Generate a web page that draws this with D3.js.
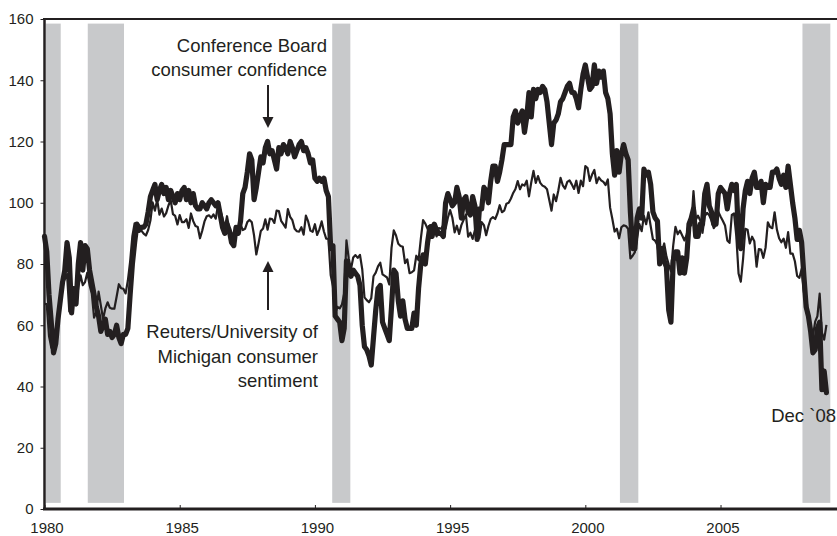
<!DOCTYPE html>
<html><head><meta charset="utf-8">
<script src="https://cdn.jsdelivr.net/npm/d3@7"></script>
<style>html,body{margin:0;padding:0;background:#fff;} svg{display:block;font-family:"Liberation Sans",Arial,Helvetica,sans-serif;}</style>
</head><body><svg id="chart" width="837" height="536"></svg>
<script>
// ---- data (monthly, Jan 1980 .. Dec 2008) ----
const startYear = 1980;
const conferenceBoard = [
  89,84,70,61,51,54,62,68,74,78,87,82,          // 1980
  64,72,67,80,87,78,86,85,78,74,70,66,          // 1981
  63,58,60,62,57,58,56,57,60,56,54,57,          // 1982
  57,59,70,80,87,93,91,92,92,93,97,102,         // 1983
  104,106,101,104,106,103,105,101,104,102,100,103, // 1984
  101,104,105,101,104,100,103,99,98,98,100,99,  // 1985
  98,100,101,100,99,100,96,92,90,93,91,87,      // 1986
  86,92,90,94,103,105,110,116,114,101,105,110,  // 1987
  115,113,118,120,116,117,114,111,118,116,119,118, // 1988
  116,120,118,115,117,119,120,117,118,116,113,114, // 1989
  108,107,108,107,108,104,102,85,86,63,62,61,   // 1990
  55,59,81,79,76,78,77,76,73,60,53,52,          // 1991
  50,47,56,65,72,73,61,59,57,55,66,78,          // 1992
  77,68,63,68,62,59,59,59,64,60,72,80,          // 1993
  83,80,87,92,89,93,91,90,90,89,100,103,        // 1994
  101,99,100,105,102,95,101,102,97,96,102,99,   // 1995
  88,98,98,105,104,100,107,112,112,107,110,114, // 1996
  119,119,119,119,128,130,126,128,130,123,128,136, // 1997
  128,137,134,137,136,138,137,133,126,119,126,127, // 1998
  129,133,134,136,138,139,136,136,134,131,137,142, // 1999
  145,141,137,138,145,139,143,141,143,136,134,129, // 2000
  116,109,117,110,116,119,116,114,97,85,85,95,  // 2001
  98,95,111,109,110,106,97,95,94,80,85,81,      // 2002
  79,65,61,81,84,84,77,82,77,82,93,95,          // 2003
  98,89,89,93,93,103,106,99,97,93,93,103,       // 2004
  105,104,103,98,103,106,104,106,88,85,98,104,  // 2005
  107,103,108,110,105,105,107,100,106,105,105,110, // 2006
  110,111,108,106,109,105,112,106,100,95,88,91, // 2007
  87,76,66,63,58,51,52,59,61,39,45,38           // 2008
];
const michigan = [
  67.0,66.9,56.5,52.7,51.7,58.7,62.3,67.3,73.7,75.0,76.7,64.5,   // 1980
  71.4,66.9,66.5,72.4,76.3,73.1,74.1,77.2,73.1,70.3,62.5,64.3,   // 1981
  71.0,66.5,62.0,65.5,67.5,65.7,65.4,65.4,69.3,73.4,72.1,71.9,   // 1982
  70.4,74.6,80.8,89.1,93.3,92.2,92.8,90.9,89.9,89.3,91.1,94.2,   // 1983
  100.1,97.4,101.0,96.1,98.1,95.5,96.6,99.1,100.9,96.3,95.7,92.9, // 1984
  96.0,93.7,93.7,94.6,91.8,96.5,94.0,92.4,92.1,88.4,90.9,93.9,   // 1985
  95.6,95.9,95.1,96.2,94.8,99.3,97.7,94.9,91.9,95.6,91.4,89.1,   // 1986
  90.4,90.2,90.8,92.8,91.1,91.5,93.7,94.4,93.6,89.3,83.1,86.8,   // 1987
  90.8,91.6,94.6,91.2,94.8,94.7,93.4,97.4,97.3,94.1,93.0,91.9,   // 1988
  97.9,95.4,94.3,91.5,90.7,90.6,92.0,89.6,95.8,93.9,90.9,90.5,   // 1989
  93.0,89.5,91.3,93.9,90.6,88.3,88.2,76.4,72.8,63.9,66.0,65.5,   // 1990
  66.8,70.4,87.7,81.8,78.3,82.1,82.9,82.0,83.0,78.3,69.1,68.2,   // 1991
  67.5,68.8,76.0,77.2,79.2,80.4,76.6,76.1,75.6,73.3,85.3,91.0,   // 1992
  89.3,86.6,85.9,85.6,80.3,81.5,77.0,77.3,77.9,82.7,81.2,88.2,   // 1993
  94.3,93.2,91.5,92.6,92.8,91.2,89.0,91.7,91.5,92.7,91.6,95.1,   // 1994
  97.6,95.1,90.3,92.5,89.8,92.7,94.4,96.2,88.9,90.2,88.2,91.0,   // 1995
  89.3,88.5,93.7,92.7,89.4,92.4,94.7,95.3,94.7,96.5,99.2,96.9,   // 1996
  97.4,99.7,100.0,101.4,103.2,104.5,107.1,104.4,106.0,105.6,107.2,102.1, // 1997
  106.6,110.4,106.5,108.7,106.5,105.6,105.2,104.4,100.9,97.4,102.7,100.5, // 1998
  103.9,108.1,105.7,104.6,106.8,107.3,106.0,104.5,107.2,103.2,107.2,105.4, // 1999
  112.0,111.3,107.1,109.2,110.7,106.4,108.3,107.3,106.8,105.8,107.6,98.4, // 2000
  94.7,90.6,91.5,88.4,92.0,92.6,92.4,91.5,81.8,82.7,83.9,88.8,   // 2001
  93.0,90.7,95.7,93.0,96.9,92.4,88.1,87.6,86.1,80.6,84.2,86.7,   // 2002
  82.4,79.9,77.6,86.0,92.1,89.7,90.9,89.3,87.7,89.6,93.7,92.6,   // 2003
  103.8,94.4,95.8,94.2,90.2,95.6,96.7,95.9,94.2,91.7,92.8,97.1,  // 2004
  95.5,94.1,92.6,87.7,86.9,96.0,96.5,89.1,76.9,74.2,81.6,91.5,   // 2005
  91.2,86.7,88.9,87.4,79.1,84.9,84.7,82.0,85.4,93.6,92.1,91.7,   // 2006
  96.9,91.3,88.4,87.1,88.3,85.3,90.4,83.4,83.4,80.9,76.1,75.5,   // 2007
  78.4,70.8,69.5,62.6,59.8,56.4,61.2,63.0,70.3,57.6,55.3,60.1    // 2008
];
const recessionStart = [1980.05, 1981.6, 1990.64, 2001.28, 2008.03];
const recessionEnd   = [1980.6, 1982.94, 1991.31, 2001.96, 2009.06];
const xTickValues = [1980, 1985, 1990, 1995, 2000, 2005];
const yTickValues = [0, 20, 40, 60, 80, 100, 120, 140, 160];
const cbLabel = ["Conference Board", "consumer confidence"];
const umLabel = ["Reuters/University of", "Michigan consumer", "sentiment"];
const endLabel = "Dec `08";

// ---- drawing ----
const ink = "#231f20";
const svg = d3.select("#chart");
const x = d3.scaleLinear().domain([1980, 2009.3]).range([44.5, 836.8]);
const y = d3.scaleLinear().domain([0, 160]).range([509, 19]);
const t = i => startYear + i / 12;

// recession bands
svg.append("g").selectAll("rect")
  .data(recessionStart.map((s, i) => [s, recessionEnd[i]]))
  .join("rect")
  .attr("x", d => x(d[0]))
  .attr("width", d => x(d[1]) - x(d[0]))
  .attr("y", y(158.5))
  .attr("height", y(2) - y(158.5))
  .attr("fill", "#c8c9cb");

// lines
const line = d3.line().x((d, i) => x(t(i))).y(d => y(d)).curve(d3.curveLinear);
svg.append("path").datum(conferenceBoard).attr("d", line)
  .attr("fill", "none").attr("stroke", ink).attr("stroke-width", 5.2)
  .attr("stroke-linejoin", "round").attr("stroke-linecap", "round");
svg.append("path").datum(michigan).attr("d", line)
  .attr("fill", "none").attr("stroke", ink).attr("stroke-width", 2.2)
  .attr("stroke-linejoin", "round");

// axes
const yAxis = svg.append("g").attr("transform", "translate(44.5,0)")
  .call(d3.axisLeft(y).tickValues(yTickValues).tickSize(4).tickPadding(7));
yAxis.select(".domain").remove();
yAxis.selectAll("line").attr("stroke", ink).attr("stroke-width", 1);
yAxis.selectAll("text").attr("font-size", 15).attr("fill", ink)
  .attr("font-family", '"Liberation Sans",Arial,sans-serif');

const xAxis = svg.append("g").attr("transform", "translate(0,509)")
  .call(d3.axisBottom(x).tickValues(xTickValues).tickFormat(d3.format("d")).tickSize(-4).tickPadding(13));
xAxis.select(".domain").remove();
xAxis.selectAll("line").attr("stroke", ink).attr("stroke-width", 1);
xAxis.selectAll("text").attr("font-size", 15).attr("fill", ink).attr("dx", 2)
  .attr("font-family", '"Liberation Sans",Arial,sans-serif');

// frame lines
svg.append("line").attr("x1", 44.5).attr("x2", 44.5).attr("y1", 18).attr("y2", 510)
  .attr("stroke", ink).attr("stroke-width", 2.5);
svg.append("line").attr("x1", 43).attr("x2", 837).attr("y1", 509).attr("y2", 509)
  .attr("stroke", ink).attr("stroke-width", 3);
svg.append("line").attr("x1", 43).attr("x2", 837).attr("y1", 19).attr("y2", 19)
  .attr("stroke", ink).attr("stroke-width", 2);

// annotations
const ann = svg.append("g").attr("fill", ink).attr("font-size", 18.5)
  .attr("text-anchor", "end");
ann.selectAll("text.cb").data(cbLabel).join("text").attr("class", "cb")
  .attr("x", 327).attr("y", (d, i) => 52 + i * 24).text(d => d);
ann.selectAll("text.um").data(umLabel).join("text").attr("class", "um")
  .attr("x", 318).attr("y", (d, i) => 338 + i * 24.5).text(d => d);
ann.append("text").attr("x", 836).attr("y", 422).text(endLabel);

// arrows
function arrow(x0, yFrom, yTip) {
  const dir = yTip > yFrom ? 1 : -1;
  svg.append("line").attr("x1", x0).attr("x2", x0).attr("y1", yFrom).attr("y2", yTip - dir * 8)
    .attr("stroke", ink).attr("stroke-width", 2);
  svg.append("path")
    .attr("d", `M${x0 - 5.5},${yTip - dir * 11} L${x0 + 5.5},${yTip - dir * 11} L${x0},${yTip} Z`)
    .attr("fill", ink);
}
arrow(268, 85, 128);
arrow(268, 310, 261);
</script>
</body></html>
